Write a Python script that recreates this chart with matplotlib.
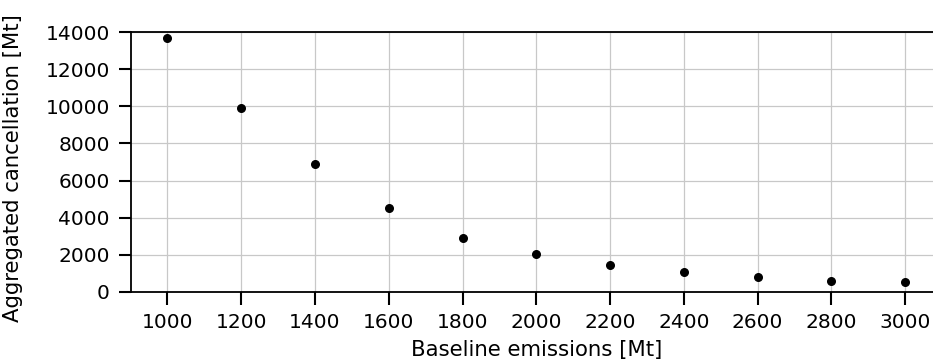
import numpy as np
import matplotlib.pyplot as plt

baseline = [1000, 1200, 1400, 1600, 1800, 2000, 2200, 2400, 2600, 2800, 3000]
cancellation = [13680, 9890, 6890, 4500, 2900, 2040, 1470, 1070, 820, 590, 550]
xticks = list(range(1000, 3001, 200))
yticks = list(range(0, 14001, 2000))

fig = plt.figure(figsize=(9.33, 3.64), dpi=100)
# axes runs a little past the right edge of the figure, as in the original
ax = fig.add_axes([0.140, 0.198, 0.8696, 0.714])

ax.scatter(baseline, cancellation, s=30, color='black', zorder=3)

ax.set_xlim(900, 3100)
ax.set_ylim(0, 14000)
ax.set_xticks(xticks)
ax.set_yticks(yticks)
ax.grid(True, color='#c8c8c8', linewidth=0.9)
ax.set_axisbelow(True)
ax.spines['right'].set_visible(False)
for s in ['left', 'bottom', 'top']:
    ax.spines[s].set_linewidth(1.3)
ax.tick_params(axis='both', length=9, width=1.5, labelsize=14.5, pad=6)

ax.set_xlabel('Baseline emissions [Mt]', fontsize=15.3, labelpad=6)
ax.set_ylabel('Aggregated cancellation [Mt]', fontsize=15.3, labelpad=6)
ax.yaxis.set_label_coords(-0.133, 0.475)

fig.savefig('out.png', dpi=100)
